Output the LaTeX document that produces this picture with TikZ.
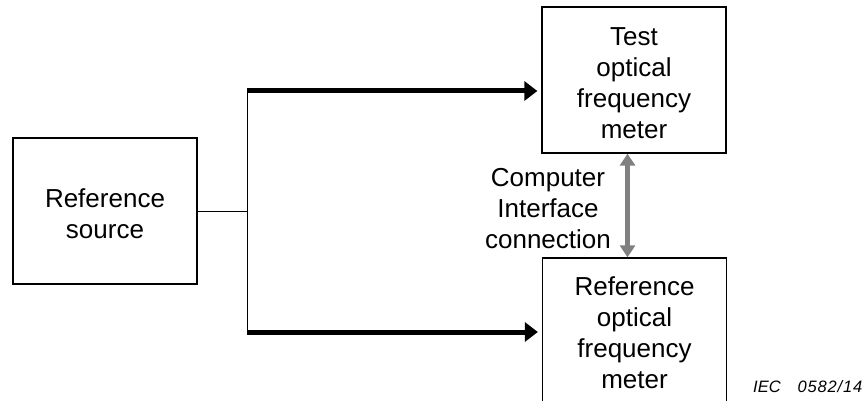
\documentclass[tikz,border=0pt]{standalone}
\usepackage{fontspec}
\setmainfont{Liberation Sans}
\usetikzlibrary{arrows.meta}
\definecolor{linkgray}{HTML}{808080}
\tikzset{
  block/.style={draw=black, line width=1.3pt, minimum width=184pt, minimum height=146pt,
                inner sep=0pt},
  lbl/.style={inner sep=0pt, align=center, font=\fontsize{26}{31}\selectfont},
  feed/.style={line width=1pt},
  beam/.style={line width=5pt, -{Triangle[length=13pt,width=19pt]}, shorten >=4pt},
  link/.style={draw=linkgray, line width=5pt,
               {Triangle[length=12pt,width=15pt]}-{Triangle[length=12pt,width=15pt]}},
  tag/.style={inner sep=0pt, anchor=base west,
              font=\fontsize{16.5}{20}\selectfont\itshape}
}
\begin{document}
\begin{tikzpicture}[x=1pt,y=-1pt]
  \useasboundingbox (0,0) rectangle (864,401);

  % blocks and their captions
  \node[block] (src) at (105,211) {};
  \node[block] (test) at (634,80) {};
  \node[block] (ref) at (634.5,331) {};
  \node[lbl] (srctxt) at ([yshift=-3pt]src.center) {Reference\\source};
  \node[lbl] (testtxt) at ([yshift=-3pt]test.center) {Test\\optical\\frequency\\meter};
  \node[lbl] (reftxt) at ([yshift=-2pt]ref.center) {Reference\\optical\\frequency\\meter};

  % branch points of the feed
  \coordinate (j) at (247,211);
  \coordinate (ja) at (247,91);
  \coordinate (jb) at (247,332);
  \coordinate (g) at (627.5,0);

  % feed from the reference source to both meters
  \draw[feed] (src.east |- j) -- (j);
  \draw[feed] (ja) -- (jb);
  \draw[beam] (ja) -- (ja -| test.west);
  \draw[beam] (jb) -- (jb -| ref.west);

  % computer link between the meters
  \draw[link] (test.south -| g) -- (ref.north -| g);
  \node[lbl] (pc) at (548,209) {Computer\\Interface\\connection};

  % figure tag
  \node[tag] (iec) at (753,392) {IEC\hspace{17pt}{\addfontfeature{LetterSpace=5}0582/14}};
\end{tikzpicture}
\end{document}
